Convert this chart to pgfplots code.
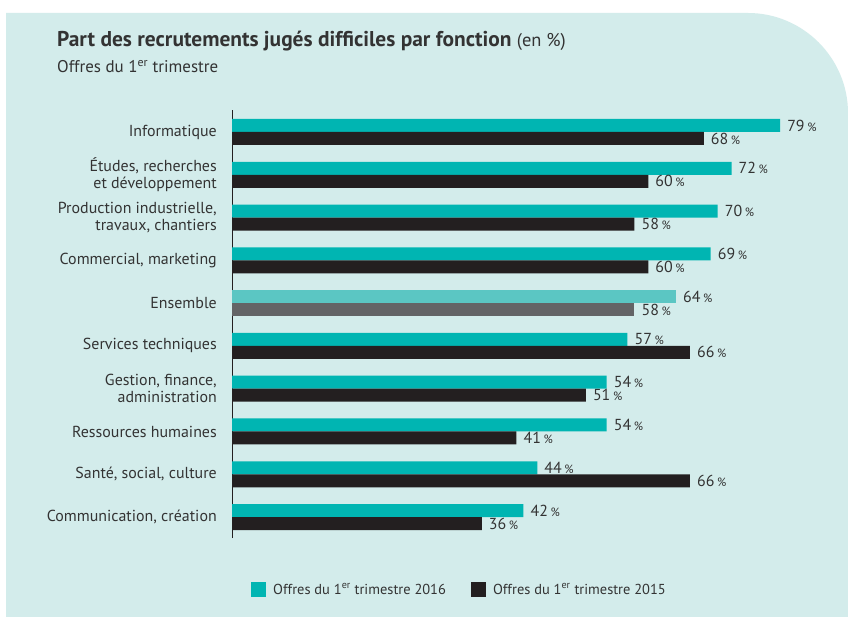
\documentclass[border=0pt]{standalone}
\usepackage{pgfplots}
\pgfplotsset{compat=1.18}
\usepackage{fontspec}
\setmainfont{PT Sans}
\definecolor{bg}{RGB}{211,236,235}
\definecolor{teal16}{RGB}{0,181,178}
\definecolor{dark15}{RGB}{35,31,32}
\definecolor{tealL}{RGB}{91,198,195}
\definecolor{greyE}{RGB}{99,100,102}
\definecolor{txt}{RGB}{51,51,51}
\newcommand{\pc}{\,{\fontsize{12}{12}\selectfont\%}}
\begin{document}
\begin{tikzpicture}
\fill[white] (0,0) rectangle (848bp,617bp);
\fill[bg] (6bp,0) -- (6bp,604bp) -- (748bp,604bp) .. controls (803bp,604bp) and (848bp,559bp) .. (848bp,504bp) -- (848bp,0) -- cycle;
\node[anchor=base west, inner sep=0pt, text=txt] at (57bp,570bp) {\fontsize{21.5}{25}\selectfont\bfseries Part des recrutements jugés difficiles par fonction {\mdseries\fontsize{18.5}{20}\selectfont (en \%)}};
\node[anchor=base west, inner sep=0pt, text=txt] at (57bp,544bp) {\fontsize{17}{19}\selectfont Offres du 1\textsuperscript{er} trimestre};
\begin{axis}[
  at={(232bp,79bp)}, anchor=south west,
  scale only axis, width=555bp, height=428bp,
  xmin=0, xmax=80, ymin=-0.49, ymax=9.514,
  xbar, bar width=13bp,
  axis x line=none, axis y line*=left,
  y axis line style={-, line width=0.9pt, color=dark15},
  ytick={0,...,9}, major tick length=0pt,
  yticklabels={{Communication, création},{Santé, social, culture},{Ressources humaines},{Gestion, finance,\\administration},{Services techniques},{Ensemble},{Commercial, marketing},{Production industrielle,\\travaux, chantiers},{Études, recherches\\et développement},{Informatique}},
  yticklabel style={align=right, font=\fontsize{16}{17}\selectfont, text=txt, inner sep=0pt, xshift=-15bp},
  /pgf/number format/assume math mode=true,
  nodes near coords={\pgfmathprintnumber{\pgfplotspointmeta}\pc},
  every node near coord/.append style={font=\fontsize{16}{16}\selectfont, text=txt, anchor=west, inner sep=0pt, xshift=7bp},
  legend columns=2,
  legend style={at={(0.0342,-0.1208)}, anchor=west, draw=none, fill=none, inner sep=0pt,
    font=\fontsize{14.5}{14.5}\selectfont, text=txt,
    /tikz/every odd column/.append style={column sep=7bp},
    /tikz/every even column/.append style={column sep=25bp},
    nodes={inner sep=0pt}},
  legend image code/.code={\fill[#1] (0bp,-7.5bp) rectangle (15bp,7.5bp);},
]
\addplot[draw=none, fill=teal16, bar shift=6.5bp] coordinates {(42,0) (44,1) (54,2) (54,3) (57,4) (69,6) (70,7) (72,8) (79,9)};
\addlegendentry{Offres du 1\textsuperscript{er} trimestre 2016}
\addplot[draw=none, fill=dark15, bar shift=-6.5bp] coordinates {(36,0) (66,1) (41,2) (51,3) (66,4) (60,6) (58,7) (60,8) (68,9)};
\addlegendentry{Offres du 1\textsuperscript{er} trimestre 2015}
\addplot[draw=none, fill=tealL, bar shift=6.5bp, forget plot] coordinates {(64,5)};
\addplot[draw=none, fill=greyE, bar shift=-6.5bp, forget plot] coordinates {(58,5)};
\end{axis}
\end{tikzpicture}
\end{document}
